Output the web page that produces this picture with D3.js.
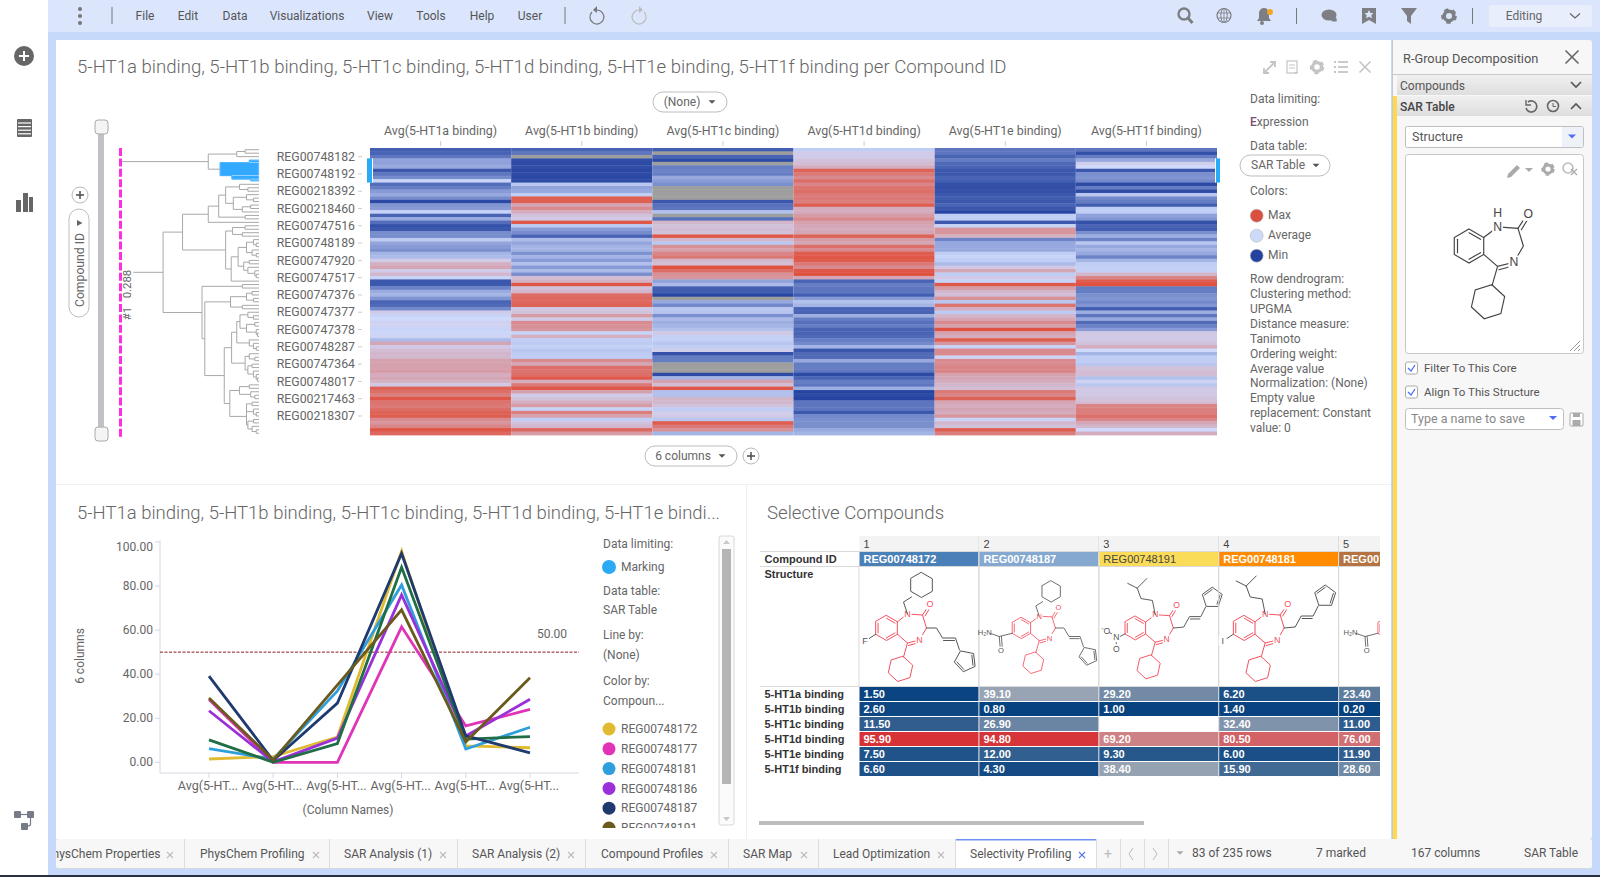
<!doctype html>
<html>
<head>
<meta charset="utf-8">
<script src="https://cdnjs.cloudflare.com/ajax/libs/d3/7.8.5/d3.min.js"></script>
<style>
  html, body { margin: 0; padding: 0; background: #fff; overflow: hidden; }
  svg { display: block; font-family: Roboto, sans-serif; }
  text { fill: #666; }
  .tbl text { font-family: "Liberation Sans", Arial, sans-serif; font-size: 11px; }
</style>
</head>
<body>
<svg id="app" width="1600" height="877"></svg>
<script>
// ---- data ----
var heatColumns = ["Avg(5-HT1a binding)", "Avg(5-HT1b binding)", "Avg(5-HT1c binding)", "Avg(5-HT1d binding)", "Avg(5-HT1e binding)", "Avg(5-HT1f binding)"];
var ht1a = [10,12,18,32,32,34,8,18,25,48, 15,20,30,34,25,3,28,30,48,12, 35,15,6,8,25,25,45,33,30,26, 38,40,55,65,68,55,62,48,8,8, 22,35,38,28,12,14,24,55,48,50, 53,52,48,49,52,40,68,56,60,62, 62,70,70,70,72,66,68,64,56,92, 88,82,96,86,84,88,92,94,78,74, 80,97,90];
var ht1b = [12,18,null,5,4,5,3,4,3,4, 44,32,34,46,93,93,68,78,66,58, 56,96,45,30,25,12,40,33,38,38, 27,38,30,42,30,40,26,60,64,97, 58,62,88,90,90,92,56,58,72,55, 78,76,74,48,65,46,45,47,44,45, 46,78,68,88,86,88,96,66,84,96, 70,55,58,65,72,48,82,70,46,58, 62,90,72];
var ht1c = [10,null,12,4,null,20,22,20,34,30, 26,null,null,null,null,8,16,18,42,null, 16,62,58,60,58,96,62,44,76,70, 80,85,62,60,98,88,76,74,32,40, 10,10,2,null,34,24,44,43,26,40, 36,38,42,56,47,47,44,46,54,6, 20,20,null,null,null,4,38,70,60,96, 42,42,62,62,58,46,54,56,44,94, 84,76,38];
var ht1d = [46,55,55,58,60,66,92,84,78,88, 80,86,88,84,84,82,94,66,66,72, 78,70,68,66,68,92,72,68,88,78, 94,96,94,84,78,96,98,68,12,20, 18,18,10,30,42,38,12,12,36,20, 16,20,12,12,14,20,24,38,8,14, 14,34,20,20,18,4,12,20,18,36, 2,4,2,18,18,18,8,24,26,26, 26,34,38];
var ht1e = [18,18,12,20,14,12,8,8,12,10, 6,5,6,8,10,8,12,8,2,46, 46,8,48,74,74,64,22,34,34,34, 46,48,46,40,56,68,46,56,48,96, 72,62,60,76,44,86,66,45,62,68, 78,70,98,70,66,94,74,48,78,78, 52,78,78,80,80,70,68,66,62,60, 84,80,92,68,66,68,66,74,48,62, 58,94,82];
var ht1f = [18,6,20,34,54,50,8,26,28,24, 4,20,4,44,24,20,10,46,46,32, 28,6,12,10,26,36,22,44,34,38, 34,22,38,46,47,47,62,80,94,98, 20,20,26,28,24,28,10,36,18,34, 14,22,30,56,56,56,58,66,50,38, 46,46,44,58,60,60,42,52,44,56, 56,56,58,60,80,82,82,88,80,68, 62,50,66];
var heatSeries = [ht1a, ht1b, ht1c, ht1d, ht1e, ht1f];
var rowLabels = ["REG00748182","REG00748192","REG00218392","REG00218460","REG00747516","REG00748189","REG00747920","REG00747517","REG00747376","REG00747377","REG00747378","REG00748287","REG00747364","REG00748017","REG00217463","REG00218307"];
var markedRows = [3, 9];

// dendrogram: [distance, child, child], 0 = next leaf row, marked subtree is separate
var treeMarked = [.28, [.07,0,[.03,0,0]], [.195,[.04,0,0],[.06,0,0]]];
var treeTop = [.365, [.16,[.10,0,0],0], treeMarked];
var treeMain = [.69,
  [.55,
    [.365, [.29, [.24,[.14,0,[.08,0,0]],[.185,[.09,0,[.04,0,0]],[.12,[.06,0,0],0]]], [.10,0,0]], 0],
    [.24, [.19,[.1,0,0],[.12,0,0]], [.2, [.15,[.09,[.04,0,[.02,0,0]],[.05,0,[.02,0,0]]],[.11,[.07,0,0],[.08,0,[.03,0,[.02,0,0]]]]], 0]]
  ],
  [.41,
    [.12,0,0],
    [.39,
      [.205,[.09,[.05,0,0],[.04,0,0]],[.12,0,0]],
      [.25,
        [.197,
          [.16,[.137,[.08,0,[.04,0,0]],[.09,[.03,0,0],[.02,0,[.01,0,0]]]],[.07,0,[.04,0,[.02,0,0]]]],
          [.1,[.07,0,[.03,0,0]],[.08,[.05,0,0],[.04,0,[.02,0,[.01,0,0]]]]]
        ],
        [.21,
          [.14,[.07,0,0],[.06,0,[.03,0,0]]],
          [.09,[.09,[.05,0,0],[.04,0,[.02,0,0]]],[.08,[.04,0,0],[.05,0,[.02,0,0]]]]
        ]
      ]
    ]
  ]
];

var lineColumns = ["Avg(5-HT1a binding)","Avg(5-HT1b binding)","Avg(5-HT1c binding)","Avg(5-HT1d binding)","Avg(5-HT1e binding)","Avg(5-HT1f binding)"];
var lineTicks = [0, 20, 40, 60, 80, 100];
var lineNames = ["REG00748172","REG00748177","REG00748181","REG00748186","REG00748190","REG00748187","REG00748191"];
var lineColors = ["#e0ba30","#e033b8","#2f9fdc","#9a30d8","#1f6e46","#1e3a6e","#6b5a1e"];
var line172 = [1.5, 2.6, 11.5, 95.9, 7.5, 6.6];
var line177 = [28.5, 0, 0, 61.5, 16.5, 24];
var line181 = [6.2, 1.4, 32.4, 80.5, 6.0, 15.9];
var line186 = [23.4, 0.2, 11.0, 76.0, 11.9, 28.6];
var line190 = [10.2, 0, 8.5, 88.5, 10.5, 11.7];
var line187 = [39.1, 0.8, 26.9, 94.8, 12.0, 4.3];
var line191 = [29.2, 1.0, null, 69.2, 9.3, 38.4];
var lineSeries = [line172, line177, line181, line186, line190, line187, line191];
var legendNames = ["REG00748172","REG00748177","REG00748181","REG00748186","REG00748187","REG00748191"];
var legendColors = ["#e0ba30","#e033b8","#2f9fdc","#9a30d8","#1e3a6e","#6b5a1e"];

var tableIds = ["REG00748172","REG00748187","REG00748191","REG00748181","REG00748186"];
var tableIdColors = ["#4a80b8","#85a8d0","#fbdc58","#ff8c00","#b5743f"];
var tableRows = ["5-HT1a binding","5-HT1b binding","5-HT1c binding","5-HT1d binding","5-HT1e binding","5-HT1f binding"];
var tblCol1 = [1.5, 2.6, 11.5, 95.9, 7.5, 6.6];
var tblCol2 = [39.1, 0.8, 26.9, 94.8, 12.0, 4.3];
var tblCol3 = [29.2, 1.0, null, 69.2, 9.3, 38.4];
var tblCol4 = [6.2, 1.4, 32.4, 80.5, 6.0, 15.9];
var tblCol5 = [23.4, 0.2, 11.0, 76.0, 11.9, 28.6];
var tableValues = [tblCol1, tblCol2, tblCol3, tblCol4, tblCol5];

var menuItems = [["File",145],["Edit",188],["Data",235],["Visualizations",307],["View",380],["Tools",431],["Help",482],["User",530]];
var tabs = [["PhysChem Properties",45,170],["PhysChem Profiling",200,316],["SAR Analysis (1)",344,443],["SAR Analysis (2)",472,571],["Compound Profiles",601,714],["SAR Map",743,804],["Lead Optimization",833,941],["Selectivity Profiling",970,1082]];
var tabSeps = [184,329,457,585,728,818,955,1096,1120,1144,1168];
var statusItems = [["83 of 235 rows",1192],["7 marked",1316],["167 columns",1411],["SAR Table",1524]];

// ---- helpers ----
var svg = d3.select("#app");
var defs = svg.append("defs");

function txt(g, x, y, s, size, opt) {
  opt = opt || {};
  return g.append("text").attr("x", x).attr("y", y + 1).text(s)
    .style("font-size", size + "px")
    .style("font-weight", opt.weight || 400)
    .style("fill", opt.fill || "#666")
    .attr("text-anchor", opt.anchor || "start")
    .attr("dominant-baseline", "middle");
}
function box(g, x, y, w, h, fill, stroke, r) {
  return g.append("rect").attr("x", x).attr("y", y).attr("width", w).attr("height", h)
    .attr("fill", fill).attr("stroke", stroke || "none").attr("rx", r || 0);
}
function seg(g, x1, y1, x2, y2, color, w) {
  return g.append("line").attr("x1", x1).attr("y1", y1).attr("x2", x2).attr("y2", y2)
    .attr("stroke", color).attr("stroke-width", w || 1);
}
function caret(g, x, y, color, size) {
  size = size || 4;
  g.append("path").attr("d", "M" + (x - size) + "," + (y - size / 2) + "h" + (2 * size) + "l-" + size + "," + size + "z").attr("fill", color);
}
function pill(g, cx, cy, w, label) {
  box(g, cx - w / 2, cy - 10, w, 20, "#fff", "#bdbdbd", 10);
  txt(g, cx - 8, cy, label, 12, {anchor: "middle"});
  caret(g, cx + w / 2 - 15, cy, "#555", 3.5);
}
function plusCircle(g, cx, cy, r) {
  g.append("circle").attr("cx", cx).attr("cy", cy).attr("r", r).attr("fill", "#fff").attr("stroke", "#bbb");
  seg(g, cx - r / 2, cy, cx + r / 2, cy, "#555", 1.6);
  seg(g, cx, cy - r / 2, cx, cy + r / 2, "#555", 1.6);
}
function gear(g, x, y, r, color) {
  g.append("circle").attr("cx", x).attr("cy", y).attr("r", r * 0.68).attr("fill", "none").attr("stroke", color).attr("stroke-width", r * 0.5);
  g.append("circle").attr("cx", x).attr("cy", y).attr("r", r * 0.95).attr("fill", "none").attr("stroke", color).attr("stroke-width", r * 0.34).attr("stroke-dasharray", r * 0.62 + " " + r * 0.62);
}
function crossX(g, x, y, r, color, w) {
  seg(g, x - r, y - r, x + r, y + r, color, w);
  seg(g, x - r, y + r, x + r, y - r, color, w);
}

// ---- page frame ----
box(svg, 48, 0, 1552, 875, "#c6d9fb");
box(svg, 48, 0, 1552, 32, "#dbe6fd");
box(svg, 56, 40, 1335, 799, "#fff");
box(svg, 1392, 40, 200, 799, "#f7f7f7", null, 3);
box(svg, 56, 839, 1536, 29, "#f7f7f7", null, 2);
seg(svg, 56, 868.5, 1592, 868.5, "#d4d8e0");
box(svg, 0, 875, 1600, 2, "#2b3040");
box(svg, 56, 484, 1335, 1, "#f0f0f0");
box(svg, 746, 484, 1, 355, "#f0f0f0");

// left strip icons
(function () {
  var g = svg.append("g");
  g.append("circle").attr("cx", 24).attr("cy", 56).attr("r", 10).attr("fill", "#666");
  seg(g, 19, 56, 29, 56, "#fff", 2); seg(g, 24, 51, 24, 61, "#fff", 2);
  box(g, 17, 119, 15, 18, "#666", null, 1);
  d3.range(4).forEach(function (i) { seg(g, 18, 123 + i * 3.6, 31, 123 + i * 3.6, "#fff", 1.2); });
  [[16,198,5,12],[23,191,5,19],[29,195,4,15]].forEach(function (b) { box(g, b[0], b[1] + 2, b[2], b[3], "#666"); });
  var c = "#777b88";
  box(g, 14, 811, 7, 7, c, null, 1); box(g, 27, 811, 7, 7, c, null, 1); box(g, 21, 823, 7, 7, c, null, 1);
  seg(g, 21, 814.5, 27, 814.5, c, 1.2);
  g.append("path").attr("d", "M30.5,818 v6 q0,2 -2.5,2").attr("fill", "none").attr("stroke", c).attr("stroke-width", 1.2);
})();

// top bar
(function () {
  var g = svg.append("g");
  [9, 16, 23].forEach(function (y) { g.append("circle").attr("cx", 80).attr("cy", y).attr("r", 2).attr("fill", "#777"); });
  seg(g, 112, 7, 112, 24, "#777"); seg(g, 565, 7, 565, 24, "#777");
  menuItems.forEach(function (m) { txt(g, m[1], 16, m[0], 12, {anchor: "middle", fill: "#555"}); });
  // undo / redo
  g.append("path").attr("d", "M592,12 a7,7 0 1 0 5,-2").attr("fill", "none").attr("stroke", "#777").attr("stroke-width", 1.2);
  g.append("path").attr("d", "M597,6 l-4,4 l4,3z").attr("fill", "#777");
  g.append("path").attr("d", "M644,12 a7,7 0 1 1 -5,-2").attr("fill", "none").attr("stroke", "#bbb").attr("stroke-width", 1.2);
  g.append("path").attr("d", "M639,6 l4,4 l-4,3z").attr("fill", "#bbb");
  var c = "#7d7f85";
  g.append("circle").attr("cx", 1184).attr("cy", 14).attr("r", 5.5).attr("fill", "none").attr("stroke", c).attr("stroke-width", 2.4);
  seg(g, 1188, 18, 1192.5, 23, c, 3);
  g.append("circle").attr("cx", 1224).attr("cy", 15.5).attr("r", 7).attr("fill", "none").attr("stroke", c).attr("stroke-width", 1.2);
  g.append("ellipse").attr("cx", 1224).attr("cy", 15.5).attr("rx", 3.2).attr("ry", 7).attr("fill", "none").attr("stroke", c);
  seg(g, 1217, 13, 1231, 13, c, .8); seg(g, 1217, 18, 1231, 18, c, .8); seg(g, 1224, 8.5, 1224, 22.5, c, .8);
  g.append("path").attr("d", "M1257,21 h14 l-2,-3 v-5 a5,5 0 0 0 -10,0 v5z").attr("fill", c);
  g.append("circle").attr("cx", 1262).attr("cy", 23).attr("r", 2).attr("fill", c);
  g.append("circle").attr("cx", 1270).attr("cy", 12).attr("r", 3).attr("fill", "#f6a623");
  seg(g, 1296.5, 8, 1296.5, 24, "#777");
  g.append("ellipse").attr("cx", 1329).attr("cy", 15).attr("rx", 7.5).attr("ry", 5.5).attr("fill", c);
  g.append("path").attr("d", "M1331,21 q4,1 6,0 l-1,-4z").attr("fill", c);
  g.append("path").attr("d", "M1362,8 h14 v16 l-7,-4 l-7,4z").attr("fill", c);
  g.append("path").attr("d", "M1369,10 l1.5,3 3,.3 -2.2,2 .6,3 -2.9,-1.5 -2.9,1.5 .6,-3 -2.2,-2 3,-.3z").attr("fill", "#dbe6fd");
  g.append("path").attr("d", "M1401,8 h16 l-6,8 v8 l-4,-3 v-5z").attr("fill", c);
  gear(g, 1449, 16, 7, c);
  seg(g, 1472.5, 8, 1472.5, 24, "#777");
  box(g, 1489, 5, 103, 22, "#e8eefb", null, 2);
  txt(g, 1524, 16, "Editing", 12, {fill: "#666", anchor: "middle"});
  g.append("path").attr("d", "M1570,13.5 l5,4.5 l5,-4.5").attr("fill", "none").attr("stroke", "#666").attr("stroke-width", 1.3);
})();

// ---- heatmap panel ----
var heat = svg.append("g");
txt(heat, 77, 67.5, "5-HT1a binding, 5-HT1b binding, 5-HT1c binding, 5-HT1d binding, 5-HT1e binding, 5-HT1f binding per Compound ID", 18.6, {weight: 300});
(function () {
  var c = "#c4c4c4";
  seg(heat, 1264, 73, 1275, 62, c, 1.8);
  heat.append("path").attr("d", "M1270,62 h5 v5 M1264,68 v5 h5").attr("fill", "none").attr("stroke", c).attr("stroke-width", 1.8);
  box(heat, 1287, 61, 10, 12, "none", c).attr("stroke-width", 1.2);
  seg(heat, 1289, 65, 1295, 65, c); seg(heat, 1289, 68, 1295, 68, c);
  caret(heat, 1296, 73, c, 2);
  gear(heat, 1317, 67, 6.5, c);
  [62, 67, 72].forEach(function (y) { seg(heat, 1334, y, 1336, y, c, 1.8); seg(heat, 1338, y, 1348, y, c, 1.8); });
  crossX(heat, 1365, 67, 5.5, c, 1.6);
})();
pill(heat, 690, 102, 74, "(None)");
pill(heat, 691, 456, 92, "6 columns");
plusCircle(heat, 751, 456, 8);

var rowBand = d3.scaleBand().domain(d3.range(83)).range([148, 435]);
var colBand = d3.scaleBand().domain(heatColumns).range([370, 1217]);
var heatColor = d3.scaleLinear().domain([0, 50, 100]).range(["#1f3f9e", "#ced9fb", "#e04c38"]);

heatColumns.forEach(function (name, c) {
  heat.append("g").selectAll("rect").data(heatSeries[c]).enter().append("rect")
    .attr("x", colBand(name))
    .attr("width", colBand.bandwidth())
    .attr("y", function (d, i) { return rowBand(i); })
    .attr("height", rowBand.bandwidth() + 0.4)
    .attr("fill", function (d) { return d === null ? "#9e9e9e" : heatColor(d); });
  txt(heat, colBand(name) + colBand.bandwidth() / 2, 131, name, 12.4, {anchor: "middle"});
  seg(heat, colBand(name) + colBand.bandwidth() / 2, 141, colBand(name) + colBand.bandwidth() / 2, 146, "#ccc");
});
// row labels every fifth row
rowLabels.forEach(function (s, i) {
  var y = rowBand(2 + i * 5) + rowBand.bandwidth() / 2;
  txt(heat, 355, y, s, 12.3, {anchor: "end"});
  seg(heat, 358, y, 362, y, "#ccc");
});
// marked rows side bars
var markTop = rowBand(markedRows[0]), markBottom = rowBand(markedRows[1]) + rowBand.bandwidth();
box(heat, 367, markTop, 5, markBottom - markTop, "#2aa9f4");
box(heat, 372, markTop, 1, markBottom - markTop, "#fff");
box(heat, 1215, markTop, 1, markBottom - markTop, "#fff");
box(heat, 1216, markTop, 4, markBottom - markTop, "#2aa9f4");

// dendrogram
var distX = d3.scaleLinear().domain([0, 1]).range([259, 120]);
var leafCounter = 0;
var treeG = heat.append("g").attr("fill", "none");
function drawNode(node, marked) {
  if (node === 0) {
    var i = leafCounter++;
    return {d: 0, y: rowBand(i) + rowBand.bandwidth() / 2};
  }
  var isMarked = marked || node === treeMarked;
  var kids = [drawNode(node[1], isMarked), drawNode(node[2], isMarked)];
  var x = distX(node[0]);
  var color = isMarked ? "#33aaff" : "#a8a8a8";
  if (isMarked) {
    box(treeG, x, kids[0].y, distX(0) - x, kids[1].y - kids[0].y, "#33aaff", "#cfe9ff").attr("stroke-width", .6);
  }
  kids.forEach(function (k) {
    treeG.append("path").attr("d", "M" + distX(k.d) + "," + k.y + "H" + x)
      .attr("stroke", color).attr("stroke-width", 1);
  });
  treeG.append("path").attr("d", "M" + x + "," + kids[0].y + "V" + kids[1].y)
    .attr("stroke", color).attr("stroke-width", 1);
  return {d: node[0], y: (kids[0].y + kids[1].y) / 2};
}
var topNode = drawNode(treeTop, false);
var mainNode = drawNode(treeMain, false);
treeG.append("path").attr("d", "M" + distX(1) + "," + topNode.y + "H" + distX(.365)).attr("stroke", "#a8a8a8");
treeG.append("path").attr("d", "M" + distX(.905) + "," + mainNode.y + "H" + distX(.69)).attr("stroke", "#a8a8a8");

// cut line and slider
seg(heat, 120.5, 148, 120.5, 437, "#ff2ee0", 3).attr("stroke-dasharray", "8 2.4");
txt(heat, 0, -1, "#1\u00A0\u00A0\u00A00.288", 11.4, {anchor: "middle"}).attr("transform", "translate(128,295) rotate(-90)");
box(heat, 98, 122, 6, 316, "#c2c2c6");
box(heat, 95, 120, 13, 14, "#f4f4f4", "#aaa", 3);
box(heat, 95, 427, 13, 14, "#f4f4f4", "#aaa", 3);
plusCircle(heat, 80, 195, 8);
box(heat, 69, 209, 20, 108, "#fff", "#bdbdbd", 10);
txt(heat, 0, 0, "Compound ID", 12.2, {anchor: "middle"}).attr("transform", "translate(80,270) rotate(-90)");
heat.append("path").attr("d", "M77,220 l5.5,3 l-5.5,3z").attr("fill", "#666");

// heatmap legend
(function () {
  var x = 1250;
  txt(heat, x, 99, "Data limiting:", 12);
  var e = txt(heat, x, 122, "", 12);
  e.append("tspan").text("E").style("fill", "#7a4a78").style("font-weight", 500);
  e.append("tspan").text("xpression").style("fill", "#666");
  txt(heat, x, 146, "Data table:", 12);
  box(heat, 1240, 155, 90, 21, "#fff", "#bdbdbd", 10.5);
  txt(heat, 1251, 165, "SAR Table", 12);
  caret(heat, 1316, 165.5, "#555", 3.5);
  txt(heat, x, 191, "Colors:", 12);
  [["Max","#d9503f",215.7],["Average","#cdd9f8",235.7],["Min","#24439f",255.7]].forEach(function (l) {
    heat.append("circle").attr("cx", 1256.7).attr("cy", l[2]).attr("r", 6.5).attr("fill", l[1]).attr("stroke", "#bbb").attr("stroke-width", .6);
    txt(heat, 1268, l[2] - .5, l[0], 12);
  });
  ["Row dendrogram:","Clustering method:","UPGMA","Distance measure:","Tanimoto","Ordering weight:","Average value","Normalization: (None)","Empty value","replacement: Constant","value: 0"].forEach(function (s, i) {
    txt(heat, x, 279 + i * 14.9, s, 12);
  });
})();

// ---- line chart panel ----
var lp = svg.append("g");
txt(lp, 77, 513, "5-HT1a binding, 5-HT1b binding, 5-HT1c binding, 5-HT1d binding, 5-HT1e bindi...", 18.5, {weight: 300});
var lineX = d3.scalePoint().domain(lineColumns).range([209, 530]);
var lineY = d3.scaleLinear().domain([0, 100]).range([762.3, 542]);
seg(lp, 160, 540, 160, 773, "#d5d8e2");
seg(lp, 160, 773, 579, 773, "#d5d8e2");
lineTicks.forEach(function (t) {
  seg(lp, 155, lineY(t), 160, lineY(t), "#d5d8e2");
  txt(lp, 153, t === 100 ? lineY(t) + 5 : lineY(t), t.toFixed(2), 12, {anchor: "end"});
});
lineColumns.forEach(function (c) {
  seg(lp, lineX(c), 773, lineX(c), 778, "#d5d8e2");
  txt(lp, lineX(c) - 1, 785.5, "Avg(5-HT...", 12.5, {anchor: "middle"});
});
txt(lp, 0, 0, "6 columns", 12, {anchor: "middle"}).attr("transform", "translate(80,656) rotate(-90)");
txt(lp, 348, 810, "(Column Names)", 12, {anchor: "middle"});
seg(lp, 160, lineY(50), 579, lineY(50), "#8a1c1c", 1).attr("stroke-dasharray", "3 1.5");
txt(lp, 552, 634, "50.00", 12, {anchor: "middle"});
var lineGen = d3.line().x(function (d) { return lineX(d.c); }).y(function (d) { return lineY(d.v); });
lineSeries.forEach(function (vals, s) {
  var pts = vals.map(function (v, i) { return {c: lineColumns[i], v: v}; }).filter(function (p) { return p.v !== null; });
  lp.append("path").attr("d", lineGen(pts)).attr("fill", "none")
    .attr("stroke", lineColors[s]).attr("stroke-width", 2.8).attr("stroke-linejoin", "miter");
});
// legend of the line chart
defs.append("clipPath").attr("id", "legClip").append("rect").attr("x", 590).attr("y", 530).attr("width", 130).attr("height", 298);
var lg = lp.append("g").attr("clip-path", "url(#legClip)");
[["Data limiting:",544],["Data table:",591],["SAR Table",610],["Line by:",635],["(None)",655],["Color by:",681],["Compoun...",701]].forEach(function (l) {
  txt(lg, 603, l[1], l[0], 12);
});
lg.append("circle").attr("cx", 609).attr("cy", 567).attr("r", 7).attr("fill", "#2aa9f4");
txt(lg, 621, 567, "Marking", 12);
legendNames.forEach(function (n, i) {
  var y = 729 + i * 19.8;
  lg.append("circle").attr("cx", 609).attr("cy", y).attr("r", 6.5).attr("fill", legendColors[i]);
  txt(lg, 621, y, n, 12);
});
box(lp, 719, 536, 15, 289, "#fbfbfb", "#d8d8d8", 2);
box(lp, 722, 549, 9, 235, "#b5b5b5");
lp.append("path").attr("d", "M723,544 l3.5,-4 l3.5,4z M723,817 l3.5,4 l3.5,-4z").attr("fill", "#c8c8c8");

// ---- molecule drawings ----
function polyPts(cx, cy, r, n, start) {
  return d3.range(n).map(function (i) {
    var a = start + i * 2 * Math.PI / n;
    return [cx + r * Math.cos(a), cy + r * Math.sin(a)];
  });
}
function molecule(g, mol, red, dark, sw) {
  var m = g.append("g").attr("fill", "none").attr("stroke-linecap", "round");
  function ring(pts, color, inner) {
    m.append("path").attr("d", d3.line()(pts) + "Z").attr("stroke", color).attr("stroke-width", sw);
    (inner || []).forEach(function (k) {
      var a = pts[k], b = pts[(k + 1) % pts.length];
      var cx = d3.mean(pts, function (p) { return p[0]; }), cy = d3.mean(pts, function (p) { return p[1]; });
      var f = 0.78;
      m.append("path").attr("d", d3.line()([[cx + (a[0] - cx) * f, cy + (a[1] - cy) * f], [cx + (b[0] - cx) * f, cy + (b[1] - cy) * f]])).attr("stroke", color).attr("stroke-width", sw);
    });
  }
  function path(pts, color) { m.append("path").attr("d", d3.line()(pts)).attr("stroke", color).attr("stroke-width", sw); }
  function atom(x, y, s, color) {
    m.append("rect").attr("x", x - 4).attr("y", y - 5).attr("width", 8).attr("height", 10).attr("fill", mol.bg || "#fff");
    m.append("text").attr("x", x).attr("y", y + .5).text(s).style("font-size", "9px").style("fill", color).style("font-family", "Liberation Sans, Arial, sans-serif").attr("text-anchor", "middle").attr("dominant-baseline", "middle").attr("stroke", "none");
  }
  // benzodiazepine core
  ring(polyPts(0, 0, 12.5, 6, -Math.PI / 2), red, [0, 2, 4]);
  path([[10.8, -6.2], [21, -14], [36, -13], [40, 0], [33, 12], [21, 15], [10.8, 6.2]], red);
  path([[36, -13], [42, -22]], red); path([[38.5, -12], [44, -21]], red);
  path([[33, 14.5], [22, 17.5]], red);
  path([[21, 15], [17, 29]], red);
  ring(polyPts(14, 41, 12.8, 6, -1.35), red);
  atom(21, -14, "N", red); atom(33, 12, "N", red); atom(43.5, -23.5, "O", red);
  if (mol.r1 === "hex") {
    path([[21, -14], [17, -26], [25, -31]], dark);
    ring(polyPts(35, -43, 12.5, 6, -Math.PI / 2), dark);
  } else if (mol.r1 === "iso") {
    path([[21, -14], [18, -29], [6, -31], [2, -42], [-8, -47]], dark);
    path([[2, -42], [12, -52]], dark);
  } else if (mol.r1 === "H") {
    atom(21, -24, "H", dark);
  }
  if (mol.chain === "down") {
    path([[40, 0], [50, 0], [56, 10], [69, 10], [73, 22]], dark);
    path([[57, 12.5], [68, 12.5]], dark);
    ring(polyPts(79, 33, 11, 5, -2.0), dark, [1, 3]);
  } else if (mol.chain === "up") {
    path([[40, 0], [51, -1], [57, -12], [69, -12], [74, -22]], dark);
    path([[58, -9.5], [68, -9.5]], dark);
    ring(polyPts(81, -32, 11, 5, 2.2), dark, [1, 3]);
  }
  if (mol.r7 === "F" || mol.r7 === "I") {
    path([[-10.8, 6.2], [-18, 11]], dark);
    atom(-21.5, 13, mol.r7, dark);
  } else if (mol.r7 === "amide") {
    path([[-10.8, 6.2], [-26, 10], [-36, 6.5]], dark);
    path([[-26, 10], [-25, 23]], dark); path([[-23.5, 10], [-22.5, 23]], dark);
    atom(-43, 5, "H\u2082N", dark); atom(-24, 27, "O", dark);
  } else if (mol.r7 === "nitro") {
    path([[-10.8, 6.2], [-17, 9.5]], dark);
    path([[-20, 13], [-20, 19]], dark); path([[-25, 6], [-29, 4]], dark);
    atom(-20, 10, "N", dark); atom(-31.5, 3, "\u207BO", dark); atom(-20, 22, "O", dark);
  }
}
var MOL_RED = "#f4505e", MOL_DARK = "#555";

// ---- selective compounds table ----
txt(svg, 767, 513, "Selective Compounds", 18.6, {weight: 300});
var tp = svg.append("g").attr("class", "tbl");
defs.append("clipPath").attr("id", "tblClip").append("rect").attr("x", 755).attr("y", 530).attr("width", 625).attr("height", 260);
var tb = tp.append("g").attr("clip-path", "url(#tblClip)");
var tblX = d3.scaleBand().domain(d3.range(5)).range([859.5, 1459]);
var tblRowY = d3.scaleBand().domain(tableRows).range([687, 777]);
var tblColor = d3.scaleLinear().domain([0, 42, 70, 100]).range(["#04407f", "#a3abb7", "#ce8284", "#d8262b"]);
var cellW = tblX.bandwidth() - 1;
var molecules = [
  {r1: "hex", chain: "down", r7: "F", dx: 27, s: 1},
  {r1: "hex", chain: "down", r7: "amide", dx: 42, s: 0.85},
  {r1: "iso", chain: "up", r7: "nitro", dx: 36, s: 0.95},
  {r1: "iso", chain: "up", r7: "I", dx: 25, s: 1},
  {r1: "iso", chain: "up", r7: "amide", dx: 48, s: 0.85}
];
seg(tb, 760, 551.5, 1380, 551.5, "#d9d9d9");
seg(tb, 760, 566.5, 1380, 566.5, "#d9d9d9");
seg(tb, 760, 686.5, 1380, 686.5, "#d9d9d9");
txt(tb, 764.5, 559.5, "Compound ID", 11, {weight: 700, fill: "#333"});
txt(tb, 764.5, 574, "Structure", 11, {weight: 700, fill: "#333"});
tableRows.forEach(function (r) {
  txt(tb, 764.5, tblRowY(r) + 7.5, r, 11, {weight: 700, fill: "#333"});
});
tableIds.forEach(function (id, c) {
  var x = tblX(c);
  box(tb, x, 536, cellW, 15, "#f3f3f3");
  txt(tb, x + 4, 544, String(c + 1), 11, {fill: "#444"});
  box(tb, x, 552, cellW, 14, tableIdColors[c]);
  txt(tb, x + 4, 559.5, id, 11, c === 2 ? {fill: "#444"} : {weight: 700, fill: "#fff"});
  box(tb, x + cellW, 536, 1, 241, "#d9d9d9");
  box(tb, x - 1, 567, 1, 120, "#d9d9d9");
  var mg = tb.append("g").attr("transform", "translate(" + (x + molecules[c].dx) + ",628) scale(" + molecules[c].s + ")");
  molecule(mg, molecules[c], MOL_RED, MOL_DARK, 1);
  tableRows.forEach(function (r, i) {
    var v = tableValues[c][i];
    if (v === null) return;
    box(tb, x, tblRowY(r), cellW, tblRowY.bandwidth() - 1, tblColor(v));
    txt(tb, x + 4, tblRowY(r) + 7.5, v.toFixed(2), 11, {weight: 700, fill: "#fff"});
  });
});
box(tp, 759, 821, 385, 4, "#bcbcbc");

// ---- right panel ----
(function () {
  var g = svg.append("g");
  seg(g, 1392.5, 40, 1392.5, 839, "#c8c8c8");
  txt(g, 1403, 58.5, "R-Group Decomposition", 12.8, {fill: "#555"});
  crossX(g, 1572, 57, 6.5, "#666", 1.6);
  seg(g, 1393, 74.5, 1592, 74.5, "#c8c8c8");
  var grad = defs.append("linearGradient").attr("id", "secGrad").attr("x1", 0).attr("y1", 0).attr("x2", 0).attr("y2", 1);
  grad.append("stop").attr("offset", 0).attr("stop-color", "#f0f0f0");
  grad.append("stop").attr("offset", 1).attr("stop-color", "#dedede");
  box(g, 1397, 75, 195, 20, "url(#secGrad)");
  box(g, 1397, 96, 195, 20, "url(#secGrad)");
  box(g, 1393, 96, 4, 743, "#ffd84d");
  txt(g, 1400, 85.5, "Compounds", 12, {fill: "#555"});
  txt(g, 1400, 106.5, "SAR Table", 12, {weight: 500, fill: "#444"});
  g.append("path").attr("d", "M1571,82 l5,5 l5,-5").attr("fill", "none").attr("stroke", "#555").attr("stroke-width", 1.6);
  g.append("path").attr("d", "M1571,109 l5,-5 l5,5").attr("fill", "none").attr("stroke", "#555").attr("stroke-width", 1.6);
  g.append("path").attr("d", "M1528,102 a5.5,5.5 0 1 1 -2,6").attr("fill", "none").attr("stroke", "#666").attr("stroke-width", 1.6);
  g.append("path").attr("d", "M1526,100 v5 h5").attr("fill", "none").attr("stroke", "#666").attr("stroke-width", 1.4);
  g.append("circle").attr("cx", 1553).attr("cy", 106).attr("r", 5.5).attr("fill", "none").attr("stroke", "#666").attr("stroke-width", 1.6);
  g.append("path").attr("d", "M1553,103 v3.5 h3").attr("fill", "none").attr("stroke", "#666");
  box(g, 1405.5, 126.5, 178, 21, "#fff", "#bfbfbf", 2);
  box(g, 1562, 127, 21, 20, "#eef1f8");
  txt(g, 1412, 137, "Structure", 12.5, {fill: "#555"});
  caret(g, 1572, 136.5, "#4f6df5", 4);
  box(g, 1405.5, 154.5, 178, 199, "#fff", "#c8c8c8", 3);
  g.append("path").attr("d", "M1508,174 l9,-9 l3,3 l-9,9 l-4,1z").attr("fill", "#aaa");
  caret(g, 1529, 170, "#aaa", 4);
  gear(g, 1548, 169, 6, "#aaa");
  g.append("circle").attr("cx", 1568).attr("cy", 168).attr("r", 5).attr("fill", "none").attr("stroke", "#bbb").attr("stroke-width", 1.6);
  crossX(g, 1574, 172, 3, "#aaa", 1.2);
  [[0, 10], [4, 6], [8, 2]].forEach(function (p) { seg(g, 1580 - p[1], 351, 1580, 351 - p[1], "#999"); });
  var mg = g.append("g").attr("transform", "translate(1469,246) scale(1.36)");
  molecule(mg, {r1: "H", chain: "none", r7: "none"}, "#444", "#444", 0.85);
  [[368, "Filter To This Core"], [392, "Align To This Structure"]].forEach(function (r) {
    box(g, 1405.5, r[0] - 6, 12, 12, "#fff", "#aaa", 2);
    g.append("path").attr("d", "M" + 1408 + "," + r[0] + " l3,3 l4,-6").attr("fill", "none").attr("stroke", "#4f6df5").attr("stroke-width", 1.3);
    txt(g, 1424, r[0] - .5, r[1], 11.5, {fill: "#555"});
  });
  box(g, 1405.5, 408.5, 158, 21, "#fff", "#bfbfbf", 3);
  txt(g, 1411, 419, "Type a name to save", 12.5, {fill: "#888"});
  caret(g, 1553, 418, "#4f6df5", 4);
  box(g, 1570, 413, 13, 13, "#fff", "#aaa", 1);
  box(g, 1573, 413, 7, 4, "#aaa"); box(g, 1572.5, 420, 8, 6, "#aaa");
})();

// ---- bottom tabs ----
(function () {
  var g = svg.append("g");
  defs.append("clipPath").attr("id", "tabClip").append("rect").attr("x", 56).attr("y", 839).attr("width", 1536).attr("height", 29);
  box(g, 955, 839, 141, 29, "#fff");
  box(g, 955, 839, 141, 1.5, "#6f8ff5");
  tabSeps.forEach(function (x) { seg(g, x + .5, 839, x + .5, 868, "#ddd"); });
  var tg = g.append("g").attr("clip-path", "url(#tabClip)");
  tabs.forEach(function (t, i) {
    txt(tg, t[1], 854, t[0], 12, {fill: "#555"});
    crossX(tg, t[2], 855, 3, i === 7 ? "#5b78e8" : "#bbb", 1.1);
  });
  txt(g, 1108, 854, "+", 14, {anchor: "middle", fill: "#bbb"});
  g.append("path").attr("d", "M1133,848 l-4,6 l4,6 M1153,848 l4,6 l-4,6").attr("fill", "none").attr("stroke", "#bbb");
  caret(g, 1180, 853, "#aaa", 3.5);
  statusItems.forEach(function (s) { txt(g, s[1], 853, s[0], 12, {fill: "#555"}); });
})();
</script>
</body>
</html>
